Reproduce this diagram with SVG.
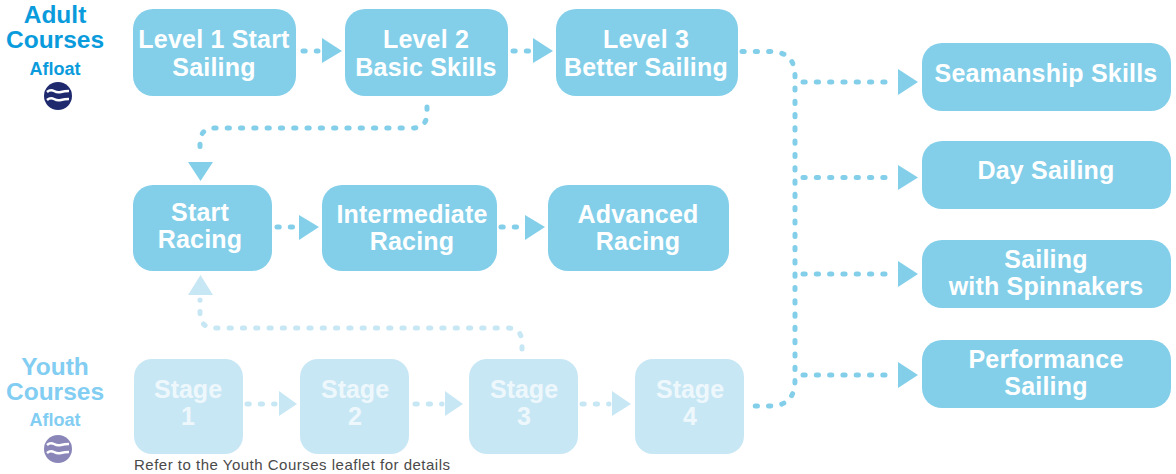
<svg xmlns="http://www.w3.org/2000/svg" width="1176" height="474" viewBox="0 0 1176 474">
<style>
text{font-family:"Liberation Sans",Arial,sans-serif;font-weight:700;text-anchor:middle}
.box{fill:#83cfea}
.lbox{fill:#c8e7f5}
.t{fill:#fff;font-size:25px;letter-spacing:.2px}
.lt{fill:#eef8fc;font-size:25px}
.hd{font-size:24.500px}
.c{fill:none;stroke:#83cfea;stroke-width:5;stroke-linecap:round;stroke-dasharray:2.200 11.100}
.lc{fill:none;stroke:#c8e7f5;stroke-width:5;stroke-linecap:round;stroke-dasharray:2.200 11.100}
.h{fill:#83cfea}
.lh{fill:#c8e7f5}
.wave{fill:none;stroke:#fff;stroke-width:2.500}
</style>
<rect width="1176" height="474" fill="#fff"/>
<g id="connectors">
<path class="c" d="M303 51H318"/>
<path class="h" d="M322 38L342 51L322 63Z"/>
<path class="c" d="M513 51H529"/>
<path class="h" d="M533 38L553 51L533 63Z"/>
<path class="c" d="M742 51.500H770Q795 51.500 795 76V380Q795 406 770 406H753"/>
<path class="c" d="M803 82H895"/>
<path class="h" d="M898 69L918 82L898 95Z"/>
<path class="c" d="M803 177.500H895"/>
<path class="h" d="M898 165L918 177.500L898 190Z"/>
<path class="c" d="M803 274H895"/>
<path class="h" d="M898 261L918 274L898 287Z"/>
<path class="c" d="M803 375H895"/>
<path class="h" d="M898 362L918 375L898 388Z"/>
<path class="c" d="M427 107V113Q427 128 412 128H215Q200 128 200 143V157"/>
<path class="h" d="M188 162H213L200.500 181Z"/>
<path class="c" d="M277 227H298"/>
<path class="h" d="M299 215L319 227L299 240Z"/>
<path class="c" d="M501 227H521"/>
<path class="h" d="M525 215L545 227L525 240Z"/>
<path class="lc" d="M522 349V343Q522 328 507 328H215Q200 328 200 313V300"/>
<path class="lh" d="M188 295H213L200.500 275Z"/>
<path class="lc" d="M247 404H275"/>
<path class="lh" d="M279 391L297 404L279 416Z"/>
<path class="lc" d="M415 404H442"/>
<path class="lh" d="M445 391L463 404L445 416Z"/>
<path class="lc" d="M582 404H609"/>
<path class="lh" d="M612 391L631 404L612 416Z"/>
</g>
<g id="adult-heading">
<text class="hd" x="55" y="23" fill="#0a9bdc">Adult</text>
<text class="hd" x="55" y="48" fill="#0a9bdc">Courses</text>
<text x="55" y="75" font-size="18" fill="#0a9bdc">Afloat</text>
<circle cx="58" cy="96" r="14" fill="#1f2a6e"/>
<path class="wave" d="M47 92Q50.500 89 54 91T61 92T69 91"/>
<path class="wave" d="M47 100Q50.500 97 54 99T61 100T69 99"/>
</g>
<g id="youth-heading">
<text class="hd" x="55" y="375" fill="#82cdf2">Youth</text>
<text class="hd" x="55" y="400" fill="#82cdf2">Courses</text>
<text x="55" y="426" font-size="18" fill="#82cdf2">Afloat</text>
<circle cx="58" cy="449" r="14" fill="#8a86b8"/>
<path class="wave" d="M47 445Q50.500 442 54 444T61 445T69 444"/>
<path class="wave" d="M47 453Q50.500 450 54 452T61 453T69 452"/>
</g>
<g id="level1"><rect class="box" x="133" y="9" width="163" height="87" rx="20"/><text class="t" x="214" y="48">Level 1 Start</text><text class="t" x="214" y="76">Sailing</text></g>
<g id="level2"><rect class="box" x="345" y="9" width="163" height="87" rx="20"/><text class="t" x="426" y="48">Level 2</text><text class="t" x="426" y="76">Basic Skills</text></g>
<g id="level3"><rect class="box" x="556" y="9" width="182" height="87" rx="20"/><text class="t" x="646" y="48">Level 3</text><text class="t" x="646" y="76">Better Sailing</text></g>
<g id="start-racing"><rect class="box" x="133" y="185" width="139" height="86" rx="20"/><text class="t" x="200" y="221">Start</text><text class="t" x="200" y="248">Racing</text></g>
<g id="intermediate-racing"><rect class="box" x="322" y="185" width="175" height="86" rx="20"/><text class="t" x="412" y="223">Intermediate</text><text class="t" x="412" y="250">Racing</text></g>
<g id="advanced-racing"><rect class="box" x="548" y="185" width="181" height="86" rx="20"/><text class="t" x="638" y="223">Advanced</text><text class="t" x="638" y="250">Racing</text></g>
<g id="stage1"><rect class="lbox" x="134" y="359" width="109" height="95" rx="18"/><text class="lt" x="188" y="398">Stage</text><text class="lt" x="188" y="425">1</text></g>
<g id="stage2"><rect class="lbox" x="300" y="359" width="109" height="95" rx="18"/><text class="lt" x="355" y="398">Stage</text><text class="lt" x="355" y="425">2</text></g>
<g id="stage3"><rect class="lbox" x="469" y="359" width="109" height="95" rx="18"/><text class="lt" x="524" y="398">Stage</text><text class="lt" x="524" y="425">3</text></g>
<g id="stage4"><rect class="lbox" x="635" y="359" width="109" height="95" rx="18"/><text class="lt" x="690" y="398">Stage</text><text class="lt" x="690" y="425">4</text></g>
<g id="seamanship"><rect class="box" x="922" y="43" width="249" height="68" rx="20"/><text class="t" x="1046" y="82">Seamanship Skills</text></g>
<g id="day-sailing"><rect class="box" x="922" y="141" width="249" height="68" rx="20"/><text class="t" x="1046" y="179">Day Sailing</text></g>
<g id="spinnakers"><rect class="box" x="922" y="240" width="249" height="68" rx="20"/><text class="t" x="1046" y="268">Sailing</text><text class="t" x="1046" y="295">with Spinnakers</text></g>
<g id="performance"><rect class="box" x="922" y="340" width="249" height="68" rx="20"/><text class="t" x="1046" y="368">Performance</text><text class="t" x="1046" y="395">Sailing</text></g>
<text x="134" y="470" font-size="15" letter-spacing=".5" fill="#4a4a4a" style="font-weight:400;text-anchor:start">Refer to the Youth Courses leaflet for details</text>
</svg>
